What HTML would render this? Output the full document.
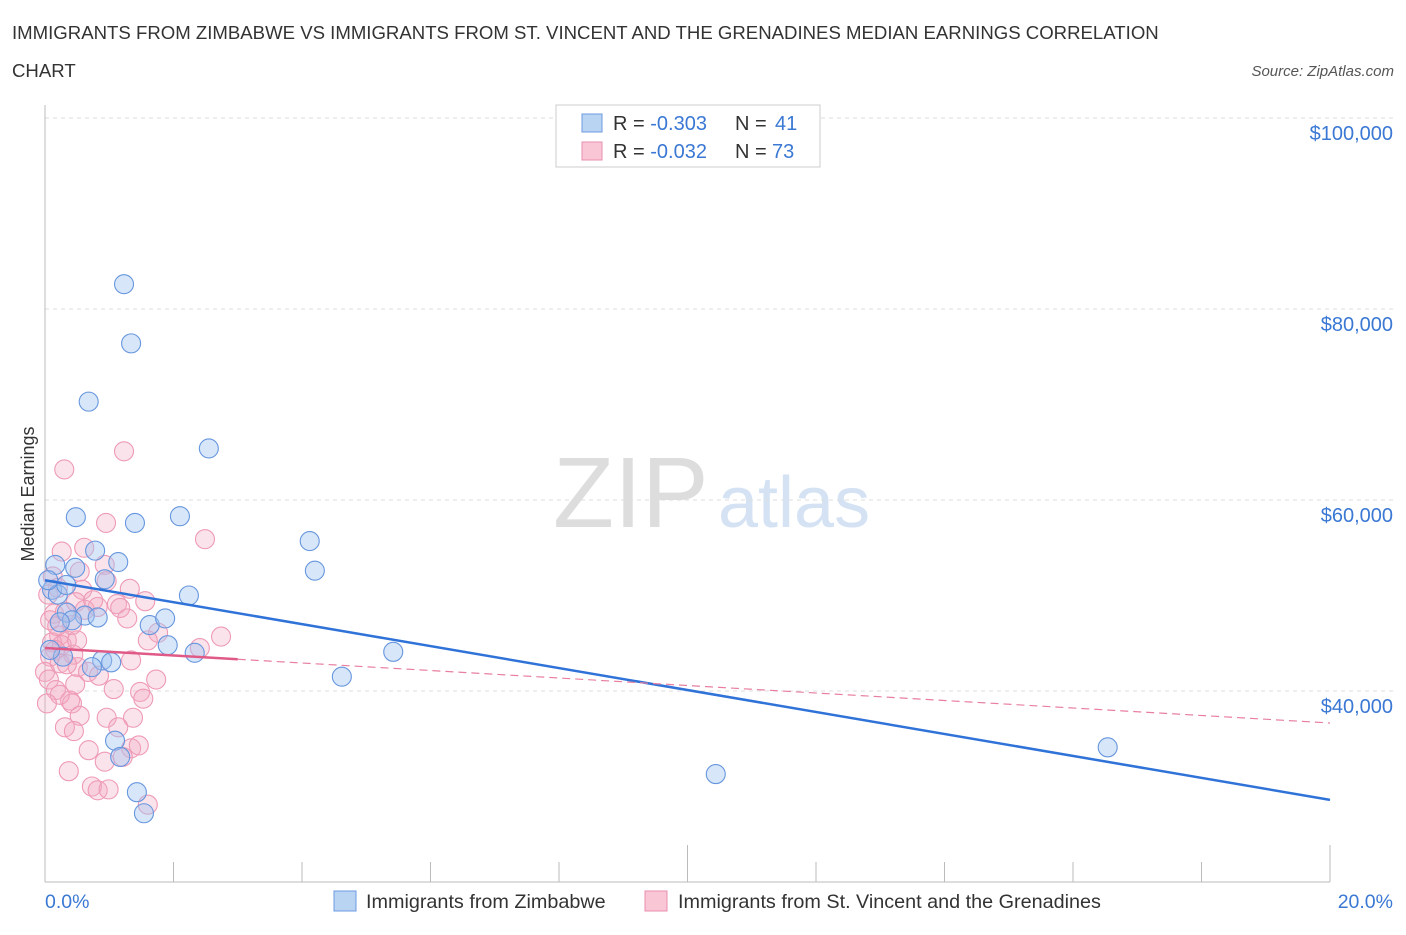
<!DOCTYPE html>
<html><head><meta charset="utf-8"><style>
body{margin:0;background:#fff;font-family:"Liberation Sans",sans-serif;}
svg text{font-family:"Liberation Sans",sans-serif;}
</style></head><body>
<svg id="chart" width="1406" height="930" xmlns="http://www.w3.org/2000/svg">
<text x="12" y="39" font-size="18.6" fill="#333">IMMIGRANTS FROM ZIMBABWE VS IMMIGRANTS FROM ST. VINCENT AND THE GRENADINES MEDIAN EARNINGS CORRELATION</text>
<text x="12" y="77" font-size="18.6" fill="#333">CHART</text>
<text x="1394" y="76" font-size="15" fill="#555" font-style="italic" text-anchor="end">Source: ZipAtlas.com</text>
<text x="553" y="527" font-size="100" fill="#ddd" font-family="Liberation Serif,serif">ZIP</text>
<text x="718" y="527" font-size="72" fill="#d4e2f4">atlas</text>
<g id="grid"></g>
<line x1="45" y1="105" x2="45" y2="882" stroke="#bbb"/>
<line x1="45" y1="882" x2="1330" y2="882" stroke="#bbb"/>
<g id="xticks"></g>
<text transform="translate(34,494) rotate(-90)" font-size="18" fill="#333" text-anchor="middle">Median Earnings</text>
<text x="45" y="908" font-size="19.5" fill="#3a78d4">0.0%</text>
<text x="1393" y="908" font-size="19.5" fill="#3a78d4" text-anchor="end">20.0%</text>
<g id="pts"></g>
<g id="trends"></g>
<g>
<rect x="556" y="105" width="264" height="62" fill="#fff" stroke="#ccc"/>
<rect x="582" y="114" width="20" height="18" fill="#b9d3f3" stroke="#6c9be0"/>
<text x="613" y="130" font-size="20" fill="#333">R = <tspan fill="#3a78d4">-0.303</tspan></text>
<text x="735" y="130" font-size="20" fill="#333">N = </text>
<text x="775" y="130" font-size="20" fill="#3a78d4">41</text>
<rect x="582" y="142" width="20" height="18" fill="#f8c6d5" stroke="#ea8fae"/>
<text x="613" y="158" font-size="20" fill="#333">R = <tspan fill="#3a78d4">-0.032</tspan></text>
<text x="735" y="158" font-size="20" fill="#333">N = </text>
<text x="772" y="158" font-size="20" fill="#3a78d4">73</text>
</g>
<g>
<rect x="334" y="891" width="22" height="20" fill="#b9d3f3" stroke="#6c9be0"/>
<text x="366" y="908" font-size="19.8" fill="#333">Immigrants from Zimbabwe</text></g>
<g>
<rect x="645" y="891" width="22" height="20" fill="#f8c6d5" stroke="#ea8fae"/>
<text x="678" y="908" font-size="19.8" fill="#333">Immigrants from St. Vincent and the Grenadines</text></g>
</svg>
<script>
const yTicks=[40000,60000,80000,100000];
const yTickLabels=["$40,000","$60,000","$80,000","$100,000"];
const blueX=[1.23,1.34,0.68,2.55,0.48,1.40,2.10,4.12,4.20,0.78,0.16,1.14,0.47,0.93,0.11,2.24,0.2,0.34,0.62,0.82,1.63,1.87,1.91,2.33,0.42,0.23,5.42,4.62,0.89,1.03,0.73,0.28,1.09,1.17,1.43,1.54,10.44,16.54,0.08,0.05,0.33];
const blueY=[82.6,76.4,70.3,65.4,58.2,57.6,58.3,55.7,52.6,54.7,53.2,53.5,52.9,51.7,50.6,50.0,50.1,48.2,47.9,47.7,46.9,47.6,44.8,44.0,47.4,47.2,44.1,41.5,43.2,43.0,42.5,43.6,34.8,33.1,29.4,27.2,31.3,34.1,44.3,51.6,51.1];
const pinkX=[0.30,1.23,0.95,2.49,0.26,0.61,0.93,0.54,0.12,0.96,0.2,1.32,0.58,1.56,0.48,1.12,0.82,0.62,0.14,1.28,0.42,1.76,2.74,0.22,0.34,1.6,0.11,0.26,2.41,0.16,0.44,0.08,1.34,0.23,0.51,0.34,0.67,0,0.06,0.47,1.73,0.17,1.07,1.48,1.53,0.39,0.42,0.54,0.96,1.37,0.31,0.45,1.14,0.68,1.34,0.93,1.21,0.37,0.73,0.82,0.99,1.6,0.05,0.08,0.31,0.75,1.17,0.19,0.5,0.84,0.23,0.03,1.46];
const pinkY=[63.2,65.1,57.6,55.9,54.6,55.0,53.2,52.5,52.0,51.5,50.8,50.7,50.6,49.4,49.3,49.1,48.8,48.5,48.1,47.6,46.9,46.1,45.7,45.8,45.3,45.3,45.1,44.8,44.5,44.3,43.8,43.6,43.2,42.9,42.5,42.8,42.0,42.0,41.2,40.7,41.2,40.1,40.2,39.9,39.2,39.0,38.7,37.4,37.2,37.2,36.2,35.8,36.2,33.8,34.0,32.6,33.1,31.6,30.0,29.6,29.7,28.1,50.1,47.4,48.3,49.5,48.7,46.8,45.3,41.6,39.6,38.7,34.3];
const blueTrend=[51.6,28.6];
const pinkTrend=[44.5,36.65];
const NS="http://www.w3.org/2000/svg";
const X=p=>45+p/20*1285;
const Y=v=>691-(v-40000)*191/20000;
function mk(t,a,parent){const e=document.createElementNS(NS,t);for(const k in a)e.setAttribute(k,a[k]);parent.appendChild(e);return e;}
const grid=document.getElementById('grid');
yTicks.forEach((v,i)=>{
 const l=mk('line',{x1:45,x2:1394,y1:Y(v),y2:Y(v),stroke:'#ddd','stroke-dasharray':'4,4'},grid);
 
 
 const t=mk('text',{x:1393,y:Y(v)+22,'font-size':20,fill:'#3a78d4','text-anchor':'end'},grid);
 t.textContent=yTickLabels[i];
 
 
});
const xt=document.getElementById('xticks');
for(let i=1;i<=10;i++){
 const x=X(i*2);
 const l=mk('line',{x1:x,x2:x,y1:(i==5||i==10)?845:862,y2:882,stroke:'#bbb'},xt);
 
 
}
const pts=document.getElementById('pts');
pinkX.forEach((x,i)=>{
 const c=mk('circle',{cx:X(x),cy:Y(pinkY[i]*1000),r:9.5,fill:'rgba(244,170,195,0.33)',stroke:'#ee9ab6','stroke-width':1.1},pts);
 
 
});
blueX.forEach((x,i)=>{
 const c=mk('circle',{cx:X(x),cy:Y(blueY[i]*1000),r:9.5,fill:'rgba(160,196,240,0.42)',stroke:'#6696de','stroke-width':1.1},pts);
 
 
});
const tr=document.getElementById('trends');
const bl=mk('line',{x1:X(0),y1:Y(blueTrend[0]*1000),x2:X(20),y2:Y(blueTrend[1]*1000),stroke:'#2f72d8','stroke-width':2.5},tr);


const pAt=p=>pinkTrend[0]+(pinkTrend[1]-pinkTrend[0])*p/20;
const pd=mk('line',{x1:X(3),y1:Y(pAt(3)*1000),x2:X(20),y2:Y(pinkTrend[1]*1000),stroke:'#e87fa0','stroke-width':1.2,'stroke-dasharray':'8,5'},tr);


const ps=mk('line',{x1:X(0),y1:Y(pinkTrend[0]*1000),x2:X(3),y2:Y(pAt(3)*1000),stroke:'#e05a88','stroke-width':2.5},tr);


</script>
</body></html>
